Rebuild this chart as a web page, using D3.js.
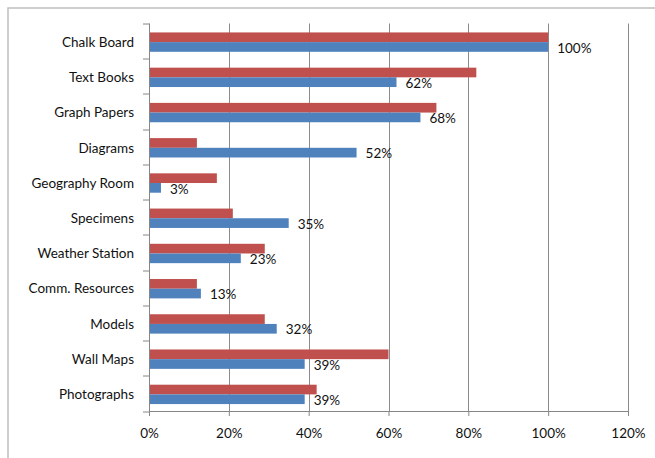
<!DOCTYPE html>
<html>
<head>
<meta charset="utf-8">
<script src="https://cdn.jsdelivr.net/npm/d3@7"></script>
<style>
  body { margin: 0; background: #fff; }
  svg text { font-family: Lato, "Open Sans", sans-serif; font-size: 13.5px; fill: #111; }
</style>
</head>
<body>
<svg width="655" height="458"></svg>
<script>
  const categories = ['Chalk Board', 'Text Books', 'Graph Papers', 'Diagrams', 'Geography Room',
    'Specimens', 'Weather Station', 'Comm. Resources', 'Models', 'Wall Maps', 'Photographs'];
  // red series (upper bar in each pair, no labels)
  const redValues = [1.00, 0.82, 0.72, 0.12, 0.17, 0.21, 0.29, 0.12, 0.29, 0.60, 0.42];
  // blue series (lower bar, labelled)
  const blueValues = [1.00, 0.62, 0.68, 0.52, 0.03, 0.35, 0.23, 0.13, 0.32, 0.39, 0.39];
  const xTicks = [0, 0.2, 0.4, 0.6, 0.8, 1.0, 1.2];

  const svg = d3.select('svg');
  const margin = { left: 149, right: 27, top: 23.5, bottom: 47 };
  const width = 655 - margin.left - margin.right;
  const height = 458 - margin.top - margin.bottom;

  // chart area border (right/bottom fall outside the picture)
  svg.append('rect')
    .attr('x', 8).attr('y', 8)
    .attr('width', 700).attr('height', 500)
    .attr('fill', 'none')
    .attr('stroke', '#bfbfbf')
    .attr('stroke-width', 1.5);

  const g = svg.append('g').attr('transform', `translate(${margin.left},${margin.top})`);

  const x = d3.scaleLinear().domain([0, 1.2]).range([0, width]);
  const y = d3.scaleBand().domain(categories).range([0, height]).paddingInner(0.45).paddingOuter(0.225);
  const sub = d3.scaleBand().domain(['red', 'blue']).range([0, y.bandwidth()]);

  // gridlines
  g.selectAll('.grid').data(xTicks.slice(1))
    .enter().append('line')
      .attr('class', 'grid')
      .attr('x1', d => Math.round(x(d)) + 0.5).attr('x2', d => Math.round(x(d)) + 0.5)
      .attr('y1', 0).attr('y2', height)
      .attr('stroke', '#8c8c8c');

  const rows = categories.map((c, i) => ({ c, red: redValues[i], blue: blueValues[i] }));

  const grp = g.selectAll('.row').data(rows)
    .enter().append('g')
      .attr('class', 'row')
      .attr('transform', d => `translate(0,${y(d.c) + 1})`);

  grp.append('rect')
    .attr('x', 0).attr('y', sub('red'))
    .attr('width', d => x(d.red)).attr('height', sub.bandwidth())
    .attr('fill', '#c0504d');

  grp.append('rect')
    .attr('x', 0).attr('y', sub('blue'))
    .attr('width', d => x(d.blue)).attr('height', sub.bandwidth())
    .attr('fill', '#4f81bd');

  grp.append('text')
    .attr('x', d => x(d.blue) + 9)
    .attr('y', sub('blue') + sub.bandwidth() / 2 + 1)
    .attr('dy', '0.35em')
    .text(d => d3.format('.0%')(d.blue));

  // left axis with category boundary ticks
  const axisColor = '#868686';
  g.append('line')
    .attr('x1', 0.5).attr('x2', 0.5).attr('y1', 0).attr('y2', height)
    .attr('stroke', axisColor);
  const step = height / categories.length;
  g.selectAll('.ytick').data(d3.range(categories.length + 1))
    .enter().append('line')
      .attr('x1', -6).attr('x2', 0.5)
      .attr('y1', d => Math.round(d * step) + 0.5).attr('y2', d => Math.round(d * step) + 0.5)
      .attr('stroke', axisColor);
  g.selectAll('.ylabel').data(categories)
    .enter().append('text')
      .attr('text-anchor', 'end')
      .attr('x', -15)
      .attr('y', d => y(d) + y.bandwidth() / 2 + 1)
      .attr('dy', '0.35em')
      .text(d => d);

  // bottom axis
  const xAxis = d3.axisBottom(x).tickValues(xTicks).tickFormat(d3.format('.0%'))
    .tickSizeInner(5).tickSizeOuter(0).tickPadding(12);
  g.append('g')
    .attr('transform', `translate(0,${height})`)
    .call(xAxis)
    .call(a => a.selectAll('line, path').attr('stroke', axisColor))
    .call(a => a.selectAll('text').attr('font-family', null).attr('font-size', null));
</script>
</body>
</html>
